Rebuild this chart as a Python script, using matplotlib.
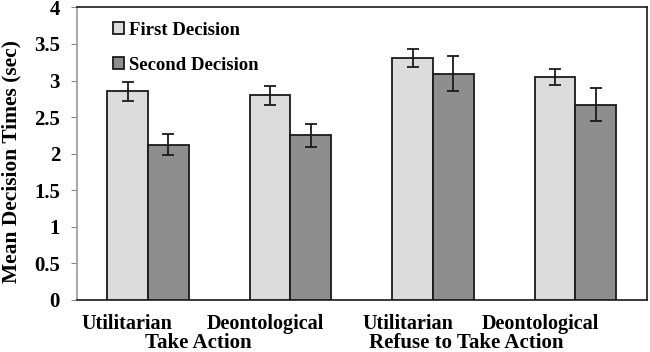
import matplotlib
matplotlib.use("Agg")
import matplotlib.pyplot as plt
import matplotlib.transforms as mtransforms
import numpy as np

categories = ["Utilitarian", "Deontological", "Utilitarian", "Deontological"]
groups = ["Take Action", "Refuse to Take Action"]
series = ["First Decision", "Second Decision"]
first = [2.85, 2.80, 3.31, 3.05]
first_err = [0.13, 0.13, 0.12, 0.105]
second = [2.12, 2.25, 3.09, 2.67]
second_err = [0.145, 0.16, 0.24, 0.23]
yticks = [0, 0.5, 1, 1.5, 2, 2.5, 3, 3.5, 4]
ytick_labels = ["0", "0.5", "1", "1.5", "2", "2.5", "3", "3.5", "4"]

plt.rcParams['font.family'] = ['Liberation Serif', 'DejaVu Serif']
plt.rcParams['font.weight'] = 'bold'

fig = plt.figure(figsize=(6.5, 3.52), dpi=100)
ax = fig.add_axes([0.118, 0.148, 0.877, 0.831])

x = np.arange(len(categories))
w = 0.285
ekw = dict(elinewidth=1.3, capsize=4, capthick=1.3, ecolor='#1a1a1a')
ax.bar(x - w/2, first, w, yerr=first_err, color='#dcdcdc', edgecolor='#1a1a1a',
       linewidth=1.3, label=series[0], error_kw=ekw, zorder=3)
ax.bar(x + w/2, second, w, yerr=second_err, color='#8e8e8e', edgecolor='#1a1a1a',
       linewidth=1.3, label=series[1], error_kw=ekw, zorder=3)

ax.set_xlim(-0.5, 3.5)
ax.set_ylim(0, 4)
ax.set_yticks(yticks)
ax.set_yticklabels(ytick_labels, fontsize=15, fontweight='bold')
ax.set_xticks(x)
ax.set_xticklabels(categories, fontsize=14.5, fontweight='bold')
ax.tick_params(axis='x', length=0, pad=10)
ax.tick_params(axis='y', length=4, color='#888888', pad=8)
ax.set_ylabel("Mean Decision Times (sec)", fontsize=15.5, fontweight='bold',
              va='center')
ax.yaxis.set_label_coords(-0.1145, 0.473)

# labels in the original are shifted left of the bar groups
label_dx = [-15, -18, -18, -25]  # points
for lab, dx in zip(ax.get_xticklabels(), label_dx):
    lab.set_transform(lab.get_transform() + mtransforms.ScaledTranslation(dx/72, 0, fig.dpi_scale_trans))

for side in ['top', 'right', 'bottom']:
    ax.spines[side].set_color('#1a1a1a')
    ax.spines[side].set_linewidth(1.2)
ax.spines['left'].set_color('#999999')
ax.spines['left'].set_linewidth(1.2)

group_dx = [-15, -27]  # points
for i, g in enumerate(groups):
    t = ax.text(0.5 + 2*i, -0.585, g, ha='center', va='center',
                fontsize=15, fontweight='bold', clip_on=False)
    t.set_transform(ax.transData + mtransforms.ScaledTranslation(group_dx[i]/72, 0, fig.dpi_scale_trans))

leg = ax.legend(loc='upper left', bbox_to_anchor=(0.04, 0.995), frameon=False,
                fontsize=13.5, handlelength=0.6, handleheight=0.6,
                handletextpad=0.25, labelspacing=0.95, borderaxespad=0.3)
for t in leg.get_texts():
    t.set_fontweight('bold')

fig.savefig("out.png", dpi=100)
